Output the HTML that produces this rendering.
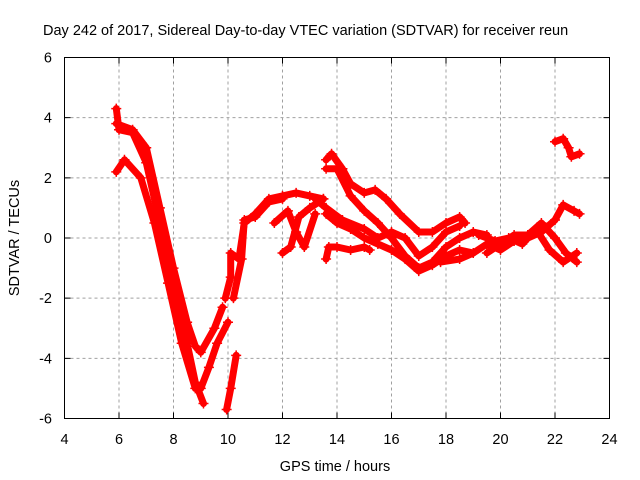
<!DOCTYPE html>
<html><head><meta charset="utf-8"><style>
body{margin:0;background:#fff}
svg{display:block;font-family:"Liberation Sans",sans-serif}
</style></head><body>
<svg id="chart" width="640" height="480" viewBox="0 0 640 480" xmlns="http://www.w3.org/2000/svg">
<text x="43" y="35" font-size="14.5" fill="#000">Day 242 of 2017, Sidereal Day-to-day VTEC variation (SDTVAR) for receiver reun</text>
<text x="335" y="471" font-size="14.5" text-anchor="middle">GPS time / hours</text>
<text transform="translate(19,238) rotate(-90)" font-size="14.5" text-anchor="middle">SDTVAR / TECUs</text>
<g id="grid"></g><g id="ticks"></g><g id="marks"></g>
<rect x="64.5" y="57.5" width="545" height="361" fill="none" stroke="#000" stroke-width="1"/>
</svg>
<script>
const xTicks=[4,6,8,10,12,14,16,18,20,22,24];
const yTicks=[-6,-4,-2,0,2,4,6];
const trackA=[[5.9,4.3],[6.0,3.6],[6.5,3.5],[7.0,2.5],[7.5,0.5],[8.0,-1.5],[8.5,-3.5],[8.8,-4.8],[9.1,-5.5]];
const trackB=[[5.9,2.2],[6.2,2.6],[6.8,2.0],[7.3,0.5],[7.8,-1.5],[8.3,-3.5],[8.8,-5.0],[9.0,-5.0],[9.3,-4.3],[9.6,-3.5],[10.0,-2.8]];
const trackC=[[5.9,3.8],[6.5,3.6],[7.0,3.0],[7.5,1.0],[8.0,-1.0],[8.5,-2.8],[8.8,-3.6],[9.0,-3.8],[9.5,-3.0],[9.8,-2.3]];
const trackD=[[9.95,-5.7],[10.1,-5.0],[10.3,-3.9]];
const trackE=[[9.9,-2.0],[10.1,-1.3],[10.1,-0.5],[10.4,-0.7],[10.6,0.5],[11.0,0.8],[11.5,1.3],[12.0,1.4],[12.5,1.5],[13.0,1.4],[13.5,1.3]];
const trackF=[[10.2,-2.0],[10.5,-0.7],[10.6,0.6],[11.0,0.7],[11.5,1.2],[12.0,1.3]];
const trackG=[[12.0,-0.5],[12.3,-0.3],[12.6,0.7],[13.0,1.0],[13.5,1.3]];
const trackH=[[11.7,0.5],[12.2,0.9],[12.5,0.2],[12.8,-0.3],[13.2,0.8]];
const trackI=[[13.6,2.6],[13.8,2.8],[14.2,2.3],[14.5,1.8],[15.0,1.5],[15.4,1.6],[15.8,1.3],[16.3,0.8],[17.0,0.2],[17.5,0.2],[18.0,0.5],[18.5,0.7],[18.7,0.5]];
const trackJ=[[13.6,2.3],[14.0,2.3],[14.5,1.4],[15.0,0.9],[15.5,0.5],[16.0,0.0],[16.5,-0.6],[17.0,-1.0],[17.5,-0.8],[18.0,-0.3],[18.5,0.0],[19.0,0.2],[19.5,0.1]];
const trackK=[[13.6,0.8],[14.0,0.5],[14.5,0.3],[15.0,0.0],[15.5,-0.2],[16.0,-0.4],[16.5,-0.7],[17.0,-1.1],[17.5,-0.9],[18.0,-0.6],[18.5,-0.4],[19.0,-0.5]];
const trackL=[[13.6,-0.7],[13.7,-0.3],[14.0,-0.3],[14.5,-0.4],[15.0,-0.3],[15.2,-0.4]];
const trackM=[[13.2,1.3],[13.6,1.0],[14.2,0.6],[15.0,0.3],[15.5,0.0],[16.0,0.2],[16.5,0.0],[17.0,-0.6],[17.5,-0.3],[18.0,0.2],[18.5,0.4]];
const trackN=[[17.8,-0.8],[18.5,-0.7],[19.0,-0.5],[19.5,-0.2],[20.0,-0.4],[20.5,-0.1],[21.0,0.0],[21.5,0.2],[22.0,0.6],[22.3,1.1],[22.7,0.9],[22.9,0.8]];
const trackO=[[19.2,0.1],[19.8,-0.1],[20.3,0.0],[20.8,-0.2],[21.3,0.3],[21.8,-0.4],[22.3,-0.8],[22.8,-0.5]];
const trackP=[[19.5,-0.5],[20.0,-0.2],[20.5,0.1],[21.0,0.1],[21.5,0.5],[22.0,0.0],[22.4,-0.5],[22.8,-0.8]];
const trackQ=[[22.0,3.2],[22.3,3.3],[22.5,3.0],[22.6,2.7],[22.9,2.8]];
const tracks=[trackA,trackB,trackC,trackD,trackE,trackF,trackG,trackH,trackI,trackJ,trackK,trackL,trackM,trackN,trackO,trackP,trackQ];

const X0=64.5,X1=609.5,Y0=418.5,Y1=57.5;
function xs(v){return X0+(v-4)/20*(X1-X0);}
function ys(v){return Y0-(v+6)/12*(Y0-Y1);}
const NS="http://www.w3.org/2000/svg";
function mk(tag,attrs,parent){const e=document.createElementNS(NS,tag);for(const k in attrs)e.setAttribute(k,attrs[k]);parent.appendChild(e);return e;}
const grid=document.getElementById('grid'),ticks=document.getElementById('ticks'),marks=document.getElementById('marks');
xTicks.forEach(t=>{
  const x=xs(t);
  if(t>4&&t<24){const g=mk('line',{x1:x,x2:x,y1:Y1,y2:Y0,stroke:'#a0a0a0','stroke-dasharray':'3,3'},grid);
  
  }
  const tk=mk('path',{d:`M${x},${Y0}v-6M${x},${Y1}v6`,stroke:'#000'},ticks);
  
  
  const l=mk('text',{x:x,y:444,'font-size':'14.5','text-anchor':'middle'},ticks);l.textContent=t;
  
  
});
yTicks.forEach(t=>{
  const y=ys(t);
  if(t>-6&&t<6){const g=mk('line',{x1:X0,x2:X1,y1:y,y2:y,stroke:'#a0a0a0','stroke-dasharray':'3,3'},grid);
  
  }
  const tk=mk('path',{d:`M${X0},${y}h6M${X1},${y}h-6`,stroke:'#000'},ticks);
  
  
  const l=mk('text',{x:52,y:y+5,'font-size':'14.5','text-anchor':'end'},ticks);l.textContent=t;
  
  
});
tracks.forEach((tr,i)=>{
  const d=tr.map((p,j)=>(j?'L':'M')+xs(p[0]).toFixed(1)+','+ys(p[1]).toFixed(1)).join('');
  const pl=mk('path',{d:d,stroke:'#f00','stroke-width':'7',fill:'none','stroke-linejoin':'round','stroke-linecap':'round'},marks);
  
  
  tr.forEach(p=>{
    const x=xs(p[0]),y=ys(p[1]);
    const m=mk('path',{d:`M${x-5},${y}h10M${x},${y-5}v10`,stroke:'#f00','stroke-width':'1.5'},marks);
    
    
  });
});
</script>
</body></html>
